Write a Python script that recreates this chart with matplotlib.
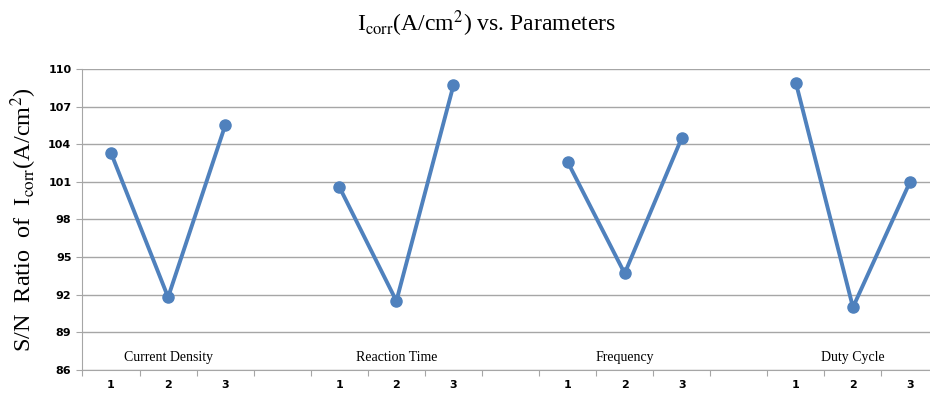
import numpy as np
import matplotlib.pyplot as plt
from matplotlib.ticker import FixedLocator, NullFormatter

plt.rcParams['mathtext.fontset'] = 'stix'

# S/N ratio of Icorr for each factor at levels 1-3
groups = ['Current Density', 'Reaction Time', 'Frequency', 'Duty Cycle']
levels = ['1', '2', '3']
current_density = [103.3, 91.8, 105.5]
reaction_time = [100.6, 91.5, 108.7]
frequency = [102.6, 93.7, 104.5]
duty_cycle = [108.9, 91.0, 101.0]
y_ticks = [86, 89, 92, 95, 98, 101, 104, 107, 110]

series = [current_density, reaction_time, frequency, duty_cycle]

# one blank category between groups so the lines break
values = []
tick_labels = []
for i, s in enumerate(series):
    values += s
    tick_labels += levels
    if i < len(series) - 1:
        values.append(np.nan)
        tick_labels.append('')
values = np.array(values)
x = np.arange(len(values))

fig = plt.figure(figsize=(9.3, 3.93), dpi=100)
ax = fig.add_axes([0.0887, 0.0585, 0.9205, 0.766])

ax.plot(x, values, color='#4F81BD', lw=2.8, marker='o', ms=8,
        solid_capstyle='round', zorder=3)

ax.set_xlim(-0.5, len(values) - 0.5)
ax.set_ylim(86, 110)
ax.set_yticks(y_ticks)
ax.yaxis.grid(True, color='#A6A6A6', lw=1.0)
ax.set_axisbelow(True)

# ticks sit on category boundaries, labels at the centres
ax.xaxis.set_major_locator(FixedLocator(np.arange(-0.5, len(values), 1.0)))
ax.xaxis.set_major_formatter(NullFormatter())
ax.xaxis.set_minor_locator(FixedLocator(x))
ax.set_xticklabels(tick_labels, minor=True)
ax.tick_params(axis='x', which='major', length=4, color='#A6A6A6', direction='out')
ax.tick_params(axis='x', which='minor', length=0, pad=7)
ax.tick_params(axis='y', length=4, color='#A6A6A6', pad=4)
for lab in ax.get_xticklabels(minor=True) + ax.get_yticklabels():
    lab.set_fontsize(8)
    lab.set_fontweight('bold')
    lab.set_family('DejaVu Sans')

for sp in ['top', 'right']:
    ax.spines[sp].set_visible(False)
for sp in ['left', 'bottom']:
    ax.spines[sp].set_color('#A6A6A6')

# group names inside the plot, above the axis
for i, name in enumerate(groups):
    ax.text(4 * i + 1, 87.0, name, ha='center', va='center',
            fontsize=10, family='Liberation Serif')

ax.set_ylabel(r'S/N  Ratio  of  I$_{\mathrm{corr}}$(A/cm$^{2}$)',
              fontsize=17.5, family='Liberation Serif')
ax.yaxis.set_label_coords(-0.051, 0.5)

fig.text(0.523, 0.94, r'I$_{\mathrm{corr}}$(A/cm$^{2}$) vs. Parameters',
         ha='center', va='center', fontsize=17, family='Liberation Serif')

fig.savefig('out.png', dpi=100)
